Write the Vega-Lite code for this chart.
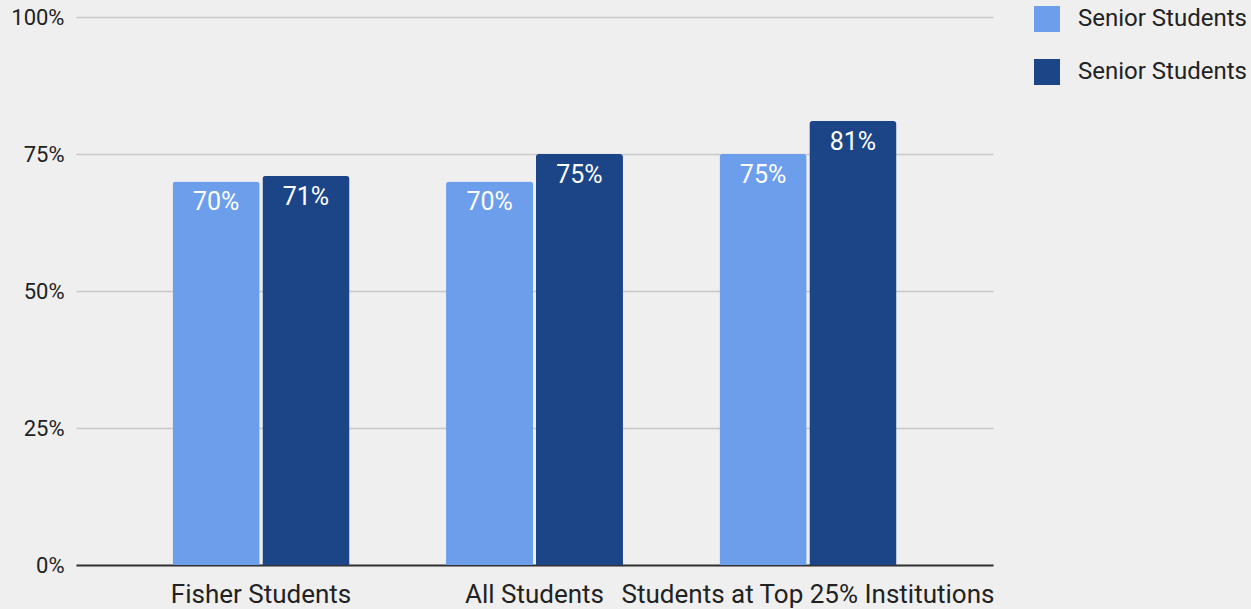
{
  "$schema": "https://vega.github.io/schema/vega-lite/v6.json",
  "width": 917,
  "height": 548,
  "autosize": {"type": "none"},
  "padding": {"left": 76, "top": 17, "right": 258, "bottom": 44},
  "background": "#efefef",
  "config": {
    "font": "Roboto",
    "view": {"stroke": null},
    "axis": {"labelFont": "Roboto", "labelColor": "#222222"},
    "legend": {"labelFont": "Roboto"}
  },
  "data": {
    "values": [
      {"group": "Fisher Students", "series": "A", "value": 0.70},
      {"group": "Fisher Students", "series": "B", "value": 0.71},
      {"group": "All Students", "series": "A", "value": 0.70},
      {"group": "All Students", "series": "B", "value": 0.75},
      {"group": "Students at Top 25% Institutions", "series": "A", "value": 0.75},
      {"group": "Students at Top 25% Institutions", "series": "B", "value": 0.81}
    ]
  },
  "encoding": {
    "x": {
      "field": "group",
      "type": "nominal",
      "sort": null,
      "title": null,
      "scale": {"paddingInner": 0.353, "paddingOuter": 0.353},
      "axis": {
        "labelAngle": 0,
        "labelFontSize": 26,
        "labelPadding": 16,
        "labelLimit": 0,
        "labelOverlap": false,
        "ticks": false,
        "domainColor": "#333333",
        "domainWidth": 2,
        "labelColor": "#222222"
      }
    },
    "xOffset": {
      "field": "series",
      "type": "nominal",
      "scale": {"paddingInner": 0.03, "paddingOuter": 0}
    },
    "y": {
      "field": "value",
      "type": "quantitative",
      "title": null,
      "scale": {"domain": [0, 1]},
      "axis": {
        "format": ".0%",
        "values": [0, 0.25, 0.5, 0.75, 1],
        "labelFontSize": 22,
        "labelPadding": 12,
        "ticks": false,
        "domain": false,
        "gridColor": "#c8c8c8",
        "gridWidth": 1.5,
        "labelColor": "#222222"
      }
    }
  },
  "layer": [
    {
      "mark": {"type": "bar", "cornerRadiusTopLeft": 3, "cornerRadiusTopRight": 3},
      "encoding": {
        "color": {
          "field": "series",
          "type": "nominal",
          "scale": {"domain": ["A", "B"], "range": ["#6d9eeb", "#1c4587"]},
          "legend": {
            "title": null,
            "orient": "none",
            "legendX": 958,
            "legendY": -11,
            "padding": 0,
            "labelExpr": "'Senior Students'",
            "labelFontSize": 24,
            "labelLimit": 0,
            "labelColor": "#222222",
            "labelOffset": 18,
            "symbolType": "square",
            "symbolSize": 676,
            "symbolStrokeWidth": 0,
            "symbolOpacity": 1,
            "rowPadding": 27
          }
        }
      }
    },
    {
      "mark": {"type": "text", "baseline": "top", "dy": 9, "fontSize": 25, "color": "#ffffff", "font": "Roboto"},
      "encoding": {
        "text": {"field": "value", "type": "quantitative", "format": ".0%"}
      }
    }
  ]
}
